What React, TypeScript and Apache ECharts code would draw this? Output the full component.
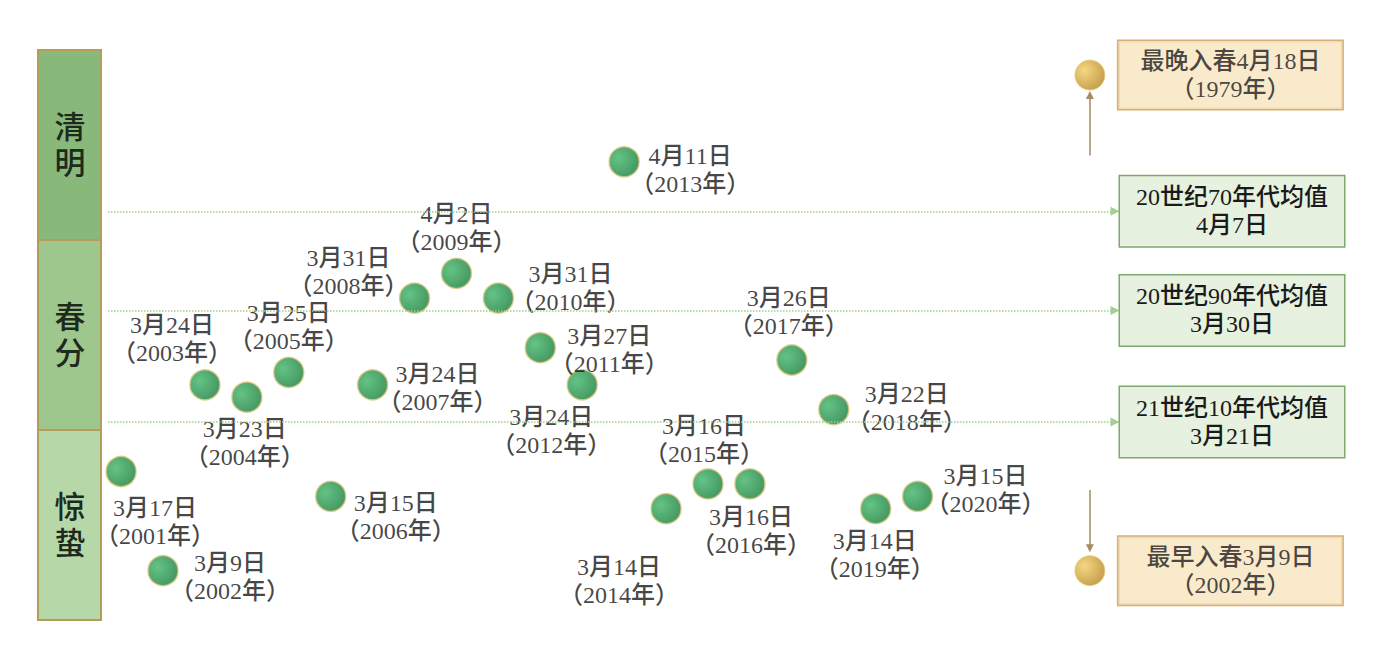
import React, { useEffect, useRef } from "react";
import * as echarts from "echarts";

// ---- data ----
const years = [2001, 2002, 2003, 2004, 2005, 2006, 2007, 2008, 2009, 2010, 2011, 2012, 2013, 2014, 2015, 2016, 2017, 2018, 2019, 2020];
const springMonths = [3, 3, 3, 3, 3, 3, 3, 3, 4, 3, 3, 3, 4, 3, 3, 3, 3, 3, 3, 3];
const springDays = [17, 9, 24, 23, 25, 15, 24, 31, 2, 31, 27, 24, 11, 14, 16, 16, 26, 22, 14, 15];

const decadeNames = ["20世纪70年代均值", "20世纪90年代均值", "21世纪10年代均值"];
const decadeMonths = [4, 3, 3];
const decadeDays = [7, 30, 21];

const recordNames = ["最晚入春", "最早入春"];
const recordYears = [1979, 2002];
const recordMonths = [4, 3];
const recordDays = [18, 9];

const termNames = ["清明", "春分", "惊蛰"];

// ---- helpers / layout ----
const FONT = "'Liberation Serif', 'Noto Sans CJK SC', serif";
const dayIndex = (m: number, d: number) => (m === 3 ? d : 31 + d);
const RECORD_X = 2024.11;

const labelOffsets: Record<number, [number, number]> = {
  2001: [34, 50],
  2002: [67, 6],
  2003: [-33, -46],
  2004: [-2, 46],
  2005: [0, -45],
  2006: [65, 21],
  2007: [65, 3],
  2008: [-66, -26],
  2009: [0, -45],
  2010: [72, -10],
  2011: [69, 2],
  2012: [-31, 46],
  2013: [66, 8],
  2014: [-47, 72],
  2015: [-4, -44],
  2016: [1, 47],
  2017: [-3, -48],
  2018: [73, -2],
  2019: [-1, 46],
  2020: [68, -6],
};

const bandColors = ["#88b97b", "#9dc78c", "#b6d7a7"];

export default function App() {
  const ref = useRef<HTMLDivElement>(null);

  useEffect(() => {
    if (!ref.current) return;
    const chart = echarts.init(ref.current, undefined, { renderer: "svg" });

    const greenDot = {
      type: "radial",
      x: 0.32,
      y: 0.38,
      r: 0.75,
      colorStops: [
        { offset: 0, color: "#3db466" },
        { offset: 1, color: "#137a38" },
      ],
    };
    const goldDot = {
      type: "radial",
      x: 0.32,
      y: 0.35,
      r: 0.75,
      colorStops: [
        { offset: 0, color: "#f3cd62" },
        { offset: 1, color: "#b3831c" },
      ],
    };

    const pointData = years.map((y, i) => ({
      name: `${springMonths[i]}月${springDays[i]}日\n（${y}年）`,
      value: [y, dayIndex(springMonths[i], springDays[i])],
      label: { offset: labelOffsets[y] },
    }));

    const boxRich = {
      a: {
        width: 210,
        align: "center",
        fontSize: 24,
        lineHeight: 28,
        color: "#1a1a1a",
        fontWeight: 500,
        fontFamily: FONT,
      },
    };

    const decadeLines = decadeNames.map((n, i) => ({
      yAxis: dayIndex(decadeMonths[i], decadeDays[i]),
      label: {
        formatter: `{a|${n}}\n{a|${decadeMonths[i]}月${decadeDays[i]}日}`,
      },
    }));

    const recordData = recordNames.map((n, i) => ({
      name: n,
      value: [RECORD_X, dayIndex(recordMonths[i], recordDays[i])],
      label: {
        formatter: `{a|${n}${recordMonths[i]}月${recordDays[i]}日}\n{a|（${recordYears[i]}年）}`,
      },
    }));

    const bandTop = 50;
    const bandH = 190;
    const graphicEls: any[] = [];
    termNames.forEach((t, i) => {
      graphicEls.push({
        type: "rect",
        shape: { x: 38, y: bandTop + i * bandH, width: 63, height: bandH },
        style: { fill: bandColors[i], stroke: "#b59c5a", lineWidth: 2 },
        z: 0,
      });
    });
    termNames.forEach((t, i) => {
      graphicEls.push({
        type: "text",
        x: 70,
        y: bandTop + i * bandH + bandH / 2,
        style: {
          text: t.split("").join("\n"),
          fontSize: 31,
          lineHeight: 36,
          fill: "#1d2a1d",
          align: "center",
          verticalAlign: "middle",
          fontWeight: 500,
          fontFamily: FONT,
        },
        z: 1,
      });
    });

    chart.setOption({
      animation: false,
      backgroundColor: "#ffffff",
      grid: { left: 108, right: 266, top: 0, bottom: 0 },
      xAxis: {
        type: "value",
        min: 2000.6875,
        max: 2024.709,
        show: false,
        splitLine: { show: false },
      },
      yAxis: {
        type: "value",
        min: 2.19,
        max: 55.06,
        show: false,
        splitLine: { show: false },
      },
      graphic: { elements: graphicEls },
      series: [
        {
          type: "scatter",
          symbolSize: 30,
          z: 3,
          itemStyle: { color: greenDot, borderColor: "#d9c47c", borderWidth: 1.5 },
          label: {
            show: true,
            position: "inside",
            formatter: "{b}",
            fontSize: 24,
            lineHeight: 28,
            color: "#141414",
            fontWeight: 500,
            textBorderWidth: 0,
            textBorderColor: "transparent",
            fontFamily: FONT,
          },
          data: pointData,
          markLine: {
            silent: true,
            symbol: ["none", "triangle"],
            symbolSize: 9,
            lineStyle: { color: "#a3cf90", width: 1.5, type: "dotted" },
            itemStyle: { color: "#8cc07a" },
            label: {
              show: true,
              position: "end",
              distance: 5,
              backgroundColor: "#e7f1df",
              borderColor: "#7ea86e",
              borderWidth: 1.5,
              padding: [7, 7],
              rich: boxRich,
            },
            data: decadeLines,
          },
        },
        {
          type: "scatter",
          symbolSize: 30,
          z: 3,
          itemStyle: { color: goldDot, borderColor: "#e6cb7a", borderWidth: 1 },
          label: {
            show: true,
            position: "right",
            distance: 13,
            backgroundColor: "#f9e5bf",
            borderColor: "#c99e55",
            borderWidth: 1.5,
            padding: [6, 7],
            rich: boxRich,
          },
          data: recordData,
          markLine: {
            silent: true,
            symbol: ["none", "triangle"],
            symbolSize: 8,
            lineStyle: { color: "#a58c62", width: 1.5, type: "solid" },
            itemStyle: { color: "#a58c62" },
            label: { show: false },
            data: [
              [{ coord: [RECORD_X, 42.5] }, { coord: [RECORD_X, 47.4] }],
              [{ coord: [RECORD_X, 15.5] }, { coord: [RECORD_X, 10.8] }],
            ],
          },
        },
      ],
    });

    return () => chart.dispose();
  }, []);

  return (
    <div
      ref={ref}
      style={{ position: "fixed", left: 0, top: 0, width: 1381, height: 655, background: "#fff" }}
    />
  );
}
